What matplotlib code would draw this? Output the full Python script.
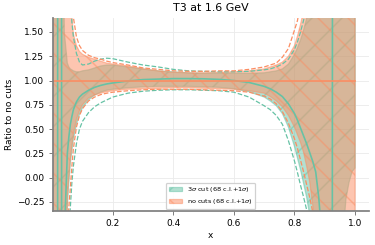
import numpy as np
import matplotlib
matplotlib.use("Agg")
import matplotlib.pyplot as plt
import matplotlib.patches as mpatches

plt.rcParams['hatch.linewidth'] = 1.2

# x grid
x = [0.001, 0.01, 0.017, 0.019, 0.025, 0.03, 0.032, 0.036, 0.04, 0.05,
     0.055, 0.06, 0.065, 0.07, 0.08, 0.09, 0.10, 0.12, 0.14, 0.16,
     0.18, 0.20, 0.25, 0.30, 0.35, 0.40, 0.45, 0.50, 0.55, 0.60,
     0.65, 0.70, 0.72, 0.74, 0.76, 0.78, 0.80, 0.81, 0.82, 0.83,
     0.84, 0.85, 0.86, 0.87, 0.88, 0.89, 0.90, 0.92, 0.93, 0.94,
     0.95, 0.96, 0.97, 0.98, 0.99, 1.0]

# 3 sigma cut (ratio to no cuts)
cut_cv = [-3, -6, -40, 40, 8, 40, -40, -3, -0.6, 0.25,
          0.42, 0.55, 0.63, 0.70, 0.78, 0.83, 0.86, 0.90, 0.93, 0.95,
          0.965, 0.975, 0.995, 1.01, 1.015, 1.02, 1.02, 1.018, 1.012, 1.0,
          0.98, 0.94, 0.915, 0.88, 0.835, 0.76, 0.66, 0.59, 0.51, 0.43,
          0.35, 0.26, 0.17, 0.06, -0.2, -0.6, -1.0, -30, 30, 12,
          8, 6, 5, 4.5, 4, 3.5]
cut_up = [10, 10, 10, 10, 10, 10, 10, 3, 1.5, 1.18,
          1.14, 1.12, 1.11, 1.10, 1.09, 1.09, 1.10, 1.11, 1.13, 1.15,
          1.16, 1.16, 1.14, 1.12, 1.10, 1.09, 1.08, 1.075, 1.075, 1.075,
          1.075, 1.08, 1.09, 1.10, 1.12, 1.17, 1.27, 1.34, 1.42, 1.52,
          1.64, 1.8, 2.0, 2.3, 2.7, 3.5, 5, 30, 30, 10,
          7, 5, 4.5, 4, 3.5, 3.2]
cut_lo = [-10, -10, -10, -10, -10, -10, -10, -3, -1.0, -0.3,
          -0.05, 0.15, 0.28, 0.40, 0.55, 0.65, 0.72, 0.80, 0.85, 0.88,
          0.90, 0.91, 0.925, 0.935, 0.94, 0.94, 0.94, 0.935, 0.93, 0.915,
          0.885, 0.83, 0.79, 0.74, 0.66, 0.52, 0.32, 0.20, 0.08, -0.06,
          -0.2, -0.38, -0.6, -0.9, -1.2, -2, -3, -30, -30, -5,
          -1.6, -0.6, -0.22, -0.05, 0.06, 0.1]
cut_sup = [5, 5, 5, 5, 5, 5, 5, 5, 5, 5,
           3, 1.9, 1.6, 1.45, 1.28, 1.19, 1.16, 1.17, 1.20, 1.22,
           1.23, 1.225, 1.19, 1.16, 1.14, 1.115, 1.10, 1.095, 1.09, 1.09,
           1.095, 1.11, 1.12, 1.14, 1.17, 1.22, 1.32, 1.40, 1.5, 1.62,
           1.8, 2.0, 2.3, 2.7, 3.2, 4, 6, 30, 30, 10,
           7, 6, 5, 4.5, 4, 3.5]
cut_slo = [-5, -5, -5, -5, -5, -5, -5, -5, -5, -5,
           -0.5, -0.3, -0.05, 0.12, 0.35, 0.50, 0.58, 0.67, 0.73, 0.77,
           0.80, 0.83, 0.87, 0.89, 0.90, 0.905, 0.905, 0.90, 0.895, 0.88,
           0.83, 0.74, 0.70, 0.64, 0.55, 0.38, 0.17, 0.05, -0.08, -0.2,
           -0.33, -0.5, -0.7, -1.0, -1.4, -2, -3, -30, -30, -8,
           -4, -2, -1.5, -1.2, -1.0, -0.9]

# no cuts (reference)
nc_cv = [1.0] * len(x)
nc_up = [10, 10, 10, 10, 10, 10, 10, 10, 10, 10,
         5, 2.0, 1.66, 1.48, 1.36, 1.30, 1.27, 1.24, 1.22, 1.20,
         1.18, 1.17, 1.15, 1.12, 1.10, 1.085, 1.08, 1.08, 1.085, 1.09,
         1.10, 1.12, 1.14, 1.16, 1.19, 1.25, 1.36, 1.46, 1.58, 1.72,
         2.0, 2.4, 3, 4, 5, 6, 8, 30, 30, 10,
         8, 7, 6, 5, 5, 5]
nc_lo = [-10, -10, -10, -10, -10, -10, -10, -10, -10, -0.2,
         0.0, 0.2, 0.33, 0.45, 0.6, 0.69, 0.75, 0.82, 0.85, 0.87,
         0.885, 0.895, 0.91, 0.915, 0.92, 0.925, 0.925, 0.92, 0.915, 0.91,
         0.895, 0.87, 0.835, 0.79, 0.73, 0.64, 0.52, 0.44, 0.36, 0.26,
         0.12, -0.04, -0.28, -0.55, -0.9, -1.5, -2.5, -30, -30, -10,
         -8, -7, -6, -5, -5, -5]
nc_sup = [5, 5, 5, 5, 5, 5, 5, 5, 5, 5,
          5, 3, 2.0, 1.65, 1.45, 1.36, 1.31, 1.26, 1.235, 1.22,
          1.20, 1.185, 1.16, 1.13, 1.115, 1.10, 1.095, 1.095, 1.10, 1.10,
          1.115, 1.14, 1.16, 1.18, 1.24, 1.33, 1.52, 1.62, 1.8, 2.1,
          2.5, 3, 4, 5, 6, 7, 8, 30, 30, 10,
          9, 8, 7, 6, 6, 6]
nc_slo = [-5, -5, -5, -5, -5, -5, -5, -5, -5, -0.6,
          -0.3, -0.1, 0.12, 0.3, 0.52, 0.64, 0.71, 0.79, 0.83, 0.855,
          0.87, 0.88, 0.895, 0.905, 0.91, 0.91, 0.91, 0.905, 0.90, 0.895,
          0.88, 0.84, 0.81, 0.76, 0.68, 0.56, 0.40, 0.30, 0.18, 0.06,
          -0.07, -0.2, -0.35, -0.6, -0.8, -1.2, -2, -30, -30, -10,
          -9, -8, -7, -6, -6, -6]

pdfs = [
    ("3$\\sigma$ cut (68 c.l.+1$\\sigma$)", "#66c2a5", "/", cut_cv, cut_up, cut_lo, cut_sup, cut_slo),
    ("no cuts (68 c.l.+1$\\sigma$)", "#fc8d62", "\\", nc_cv, nc_up, nc_lo, nc_sup, nc_slo),
]

fig = plt.figure(figsize=(375 / 90, 245 / 90), dpi=90)
ax = fig.add_axes([0.14, 0.139, 0.844, 0.7875])

handles = []
labels = []
for label, color, hatch, cv, up, lo, sup, slo in pdfs:
    ax.plot(x, cv, color=color, lw=1.3)
    ax.fill_between(x, up, lo, color=color, alpha=0.5, zorder=1, lw=1.0)
    ax.fill_between(x, up, lo, facecolor="None", alpha=0.5, edgecolor=color,
                    hatch=hatch, zorder=1, lw=0)
    ax.plot(x, sup, color=color, ls="--", lw=1.0)
    ax.plot(x, slo, color=color, ls="--", lw=1.0)
    handles.append(mpatches.Patch(facecolor=color, edgecolor=color, alpha=0.5, hatch=hatch * 2))
    labels.append(label)

ax.set_xlim(0.001, 1.046)
ax.set_ylim(-0.343, 1.644)
ax.set_xticks([0.2, 0.4, 0.6, 0.8, 1.0])
ax.set_yticks([-0.25, 0.0, 0.25, 0.5, 0.75, 1.0, 1.25, 1.5])
ax.grid(True, color="#ebebeb", lw=0.7)
ax.set_axisbelow(True)
for s in ["top", "right"]:
    ax.spines[s].set_visible(False)
for s in ["left", "bottom"]:
    ax.spines[s].set_color("#808080")
    ax.spines[s].set_linewidth(1.4)
ax.tick_params(labelsize=7.2, color="#808080", length=3, width=0.8)

ax.set_title("T3 at 1.6 GeV", fontsize=8.8)
ax.set_xlabel("x", fontsize=7.2, labelpad=2)
ax.set_ylabel("Ratio to no cuts", fontsize=7.2, labelpad=2)

ax.legend(handles, labels, loc="lower center", fontsize=5.2, borderaxespad=0.3,
          handlelength=2.0, framealpha=0.9)

fig.savefig("out.png", dpi=90)
